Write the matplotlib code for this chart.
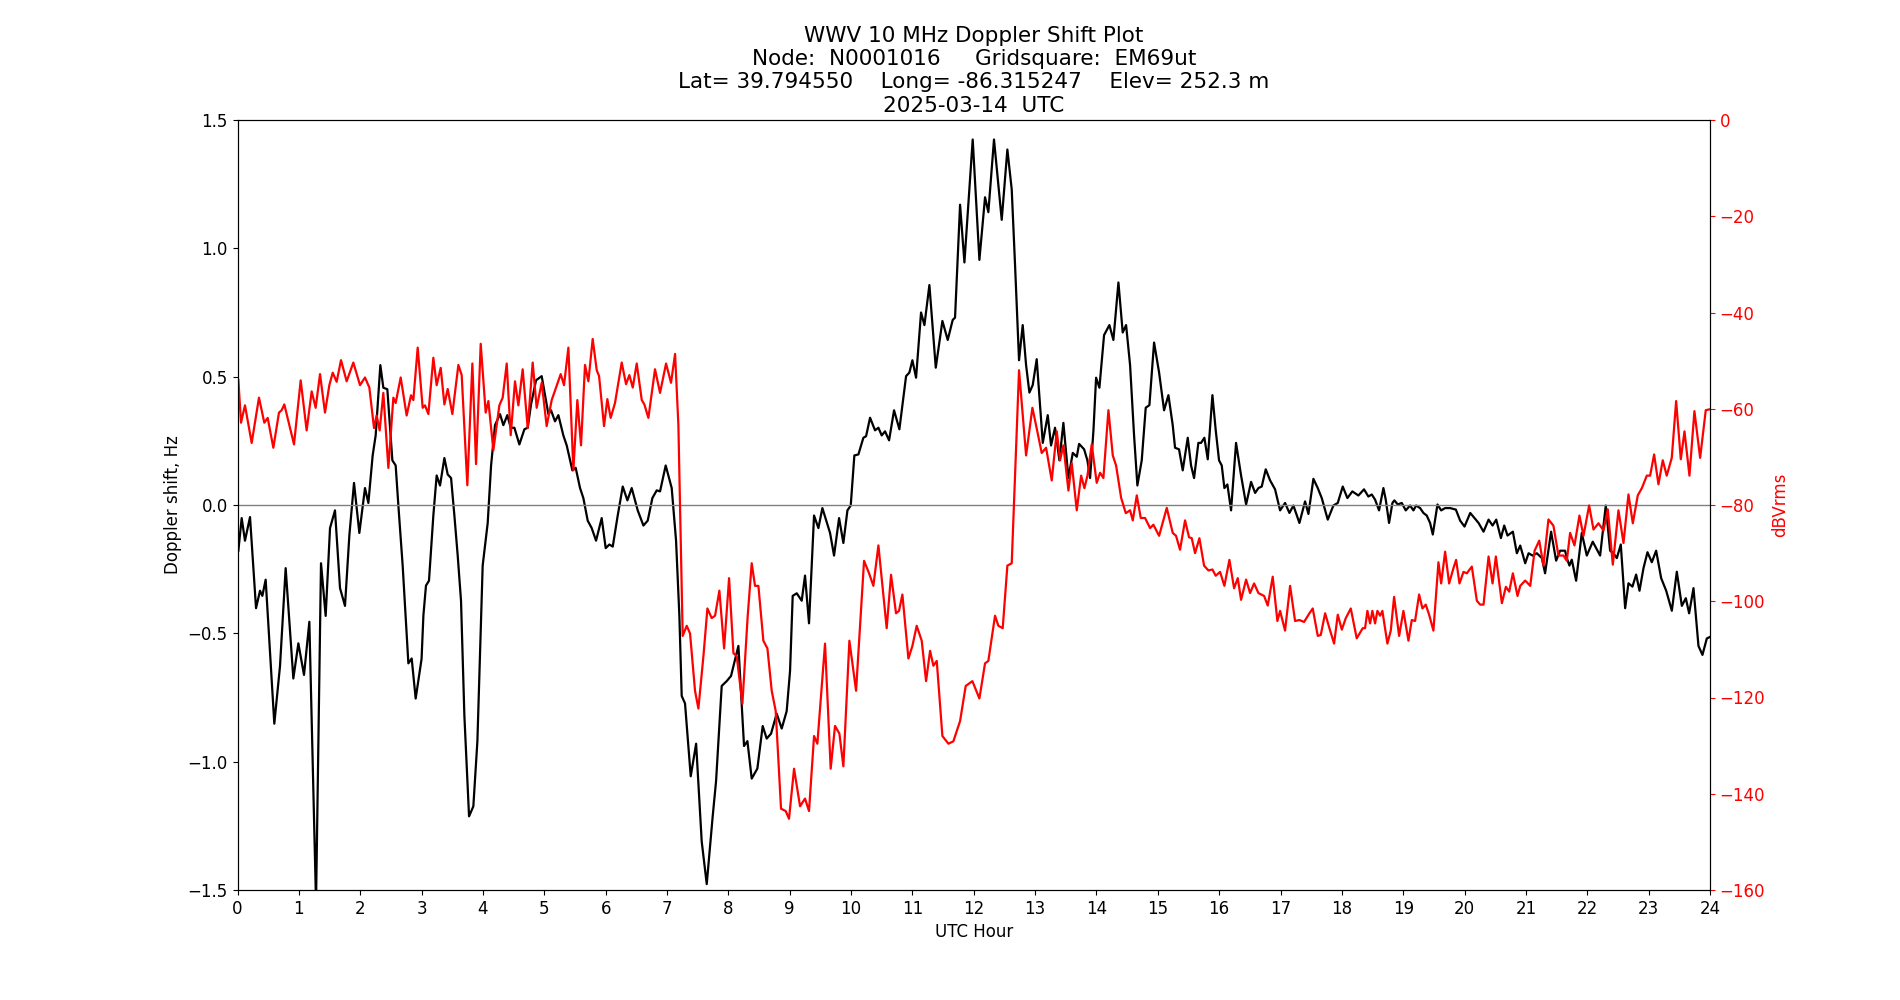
import matplotlib
matplotlib.use('Agg')
import matplotlib.pyplot as plt
import numpy as np

# Doppler shift (Hz) vs UTC hour
dop_hour = [0.014, 0.068, 0.122, 0.204, 0.302, 0.367, 0.405, 0.459, 0.600, 0.693,
            0.785, 0.910, 0.992, 1.084, 1.171, 1.280, 1.361, 1.437, 1.508, 1.589,
            1.671, 1.752, 1.823, 1.899, 1.986, 2.078, 2.133, 2.203, 2.252, 2.328,
            2.377, 2.442, 2.524, 2.578, 2.622, 2.692, 2.785, 2.839, 2.904, 3.000,
            3.030, 3.072, 3.121, 3.192, 3.246, 3.301, 3.372, 3.426, 3.481, 3.535,
            3.589, 3.643, 3.698, 3.774, 3.844, 3.910, 3.996, 4.078, 4.133, 4.197,
            4.279, 4.333, 4.398, 4.453, 4.513, 4.594, 4.676, 4.730, 4.785, 4.866,
            4.958, 5.012, 5.067, 5.110, 5.175, 5.230, 5.311, 5.366, 5.458, 5.512,
            5.583, 5.637, 5.708, 5.773, 5.844, 5.936, 6.001, 6.061, 6.116, 6.197,
            6.279, 6.355, 6.425, 6.523, 6.616, 6.686, 6.762, 6.833, 6.887, 6.979,
            7.077, 7.148, 7.202, 7.240, 7.294, 7.387, 7.475, 7.566, 7.648, 7.745,
            7.800, 7.892, 7.974, 8.044, 8.164, 8.256, 8.311, 8.381, 8.473, 8.560,
            8.625, 8.696, 8.788, 8.870, 8.951, 9.006, 9.049, 9.115, 9.196, 9.250,
            9.315, 9.397, 9.468, 9.533, 9.658, 9.723, 9.805, 9.875, 9.941, 9.995,
            10.054, 10.120, 10.201, 10.245, 10.310, 10.391, 10.446, 10.500, 10.554, 10.620,
            10.701, 10.788, 10.897, 10.951, 11.000, 11.060, 11.141, 11.196, 11.277, 11.381,
            11.489, 11.576, 11.657, 11.695, 11.777, 11.848, 11.983, 12.092, 12.184, 12.238,
            12.330, 12.456, 12.548, 12.619, 12.673, 12.738, 12.798, 12.853, 12.907, 12.961,
            13.026, 13.081, 13.125, 13.206, 13.260, 13.325, 13.396, 13.461, 13.543, 13.614,
            13.679, 13.717, 13.799, 13.852, 13.896, 13.951, 13.994, 14.048, 14.124, 14.211,
            14.276, 14.358, 14.428, 14.483, 14.548, 14.613, 14.667, 14.738, 14.803, 14.863,
            14.939, 15.021, 15.102, 15.173, 15.243, 15.281, 15.346, 15.406, 15.488, 15.542,
            15.591, 15.661, 15.705, 15.759, 15.814, 15.890, 15.944, 15.998, 16.042, 16.085,
            16.134, 16.194, 16.275, 16.357, 16.439, 16.520, 16.586, 16.640, 16.694, 16.759,
            16.830, 16.911, 16.993, 17.074, 17.145, 17.210, 17.308, 17.400, 17.455, 17.536,
            17.607, 17.672, 17.770, 17.862, 17.933, 18.014, 18.090, 18.171, 18.269, 18.361,
            18.432, 18.487, 18.541, 18.606, 18.677, 18.715, 18.769, 18.824, 18.856, 18.911,
            18.976, 19.041, 19.112, 19.166, 19.210, 19.275, 19.329, 19.383, 19.438, 19.482,
            19.558, 19.618, 19.683, 19.765, 19.858, 19.928, 19.999, 20.092, 20.162, 20.228,
            20.309, 20.391, 20.456, 20.516, 20.592, 20.646, 20.700, 20.787, 20.852, 20.907,
            20.988, 21.043, 21.108, 21.178, 21.260, 21.312, 21.410, 21.492, 21.557, 21.638,
            21.666, 21.709, 21.747, 21.818, 21.910, 21.992, 22.089, 22.209, 22.301, 22.372,
            22.426, 22.481, 22.546, 22.617, 22.671, 22.736, 22.796, 22.851, 22.916, 22.981,
            23.052, 23.122, 23.204, 23.286, 23.378, 23.459, 23.541, 23.606, 23.660, 23.731,
            23.812, 23.877, 23.948, 24.000]
dop_hz = [-0.178, -0.051, -0.139, -0.047, -0.402, -0.334, -0.354, -0.291, -0.852, -0.627,
          -0.246, -0.676, -0.539, -0.662, -0.455, -1.55, -0.227, -0.432, -0.090, -0.021,
          -0.324, -0.393, -0.119, 0.086, -0.109, 0.066, 0.008, 0.193, 0.271, 0.545,
          0.457, 0.451, 0.174, 0.154, -0.002, -0.236, -0.617, -0.598, -0.754, -0.600,
          -0.430, -0.314, -0.295, -0.041, 0.115, 0.076, 0.183, 0.119, 0.105, -0.041,
          -0.197, -0.373, -0.822, -1.213, -1.174, -0.920, -0.236, -0.070, 0.154, 0.311,
          0.354, 0.311, 0.350, 0.301, 0.301, 0.236, 0.295, 0.301, 0.393, 0.486,
          0.502, 0.428, 0.354, 0.369, 0.326, 0.350, 0.271, 0.232, 0.135, 0.145,
          0.066, 0.027, -0.061, -0.090, -0.139, -0.051, -0.168, -0.154, -0.162, -0.041,
          0.072, 0.018, 0.066, -0.021, -0.080, -0.061, 0.027, 0.057, 0.053, 0.154,
          0.066, -0.139, -0.432, -0.744, -0.773, -1.057, -0.930, -1.311, -1.477, -1.213,
          -1.076, -0.705, -0.686, -0.666, -0.549, -0.939, -0.920, -1.066, -1.027, -0.861,
          -0.910, -0.891, -0.813, -0.871, -0.803, -0.646, -0.354, -0.344, -0.373, -0.275,
          -0.461, -0.041, -0.090, -0.012, -0.109, -0.197, -0.051, -0.148, -0.021, -0.002,
          0.193, 0.197, 0.262, 0.268, 0.340, 0.291, 0.301, 0.271, 0.287, 0.252,
          0.369, 0.295, 0.502, 0.516, 0.564, 0.496, 0.750, 0.701, 0.857, 0.535,
          0.717, 0.643, 0.721, 0.730, 1.170, 0.945, 1.424, 0.955, 1.199, 1.141,
          1.424, 1.111, 1.385, 1.229, 0.936, 0.564, 0.701, 0.545, 0.438, 0.467,
          0.568, 0.389, 0.242, 0.350, 0.232, 0.301, 0.174, 0.320, 0.105, 0.203,
          0.188, 0.238, 0.217, 0.174, 0.105, 0.291, 0.496, 0.457, 0.662, 0.701,
          0.643, 0.867, 0.672, 0.701, 0.545, 0.271, 0.076, 0.174, 0.379, 0.389,
          0.633, 0.516, 0.369, 0.428, 0.311, 0.223, 0.217, 0.135, 0.262, 0.154,
          0.105, 0.242, 0.242, 0.262, 0.178, 0.428, 0.291, 0.174, 0.154, 0.066,
          0.080, -0.021, 0.242, 0.115, 0.002, 0.090, 0.047, 0.066, 0.072, 0.139,
          0.096, 0.061, -0.021, 0.008, -0.031, -0.002, -0.070, 0.014, -0.035, 0.102,
          0.066, 0.027, -0.057, -0.002, 0.008, 0.072, 0.027, 0.053, 0.037, 0.061,
          0.033, 0.041, 0.021, -0.021, 0.066, 0.021, -0.070, 0.008, 0.018, 0.002,
          0.008, -0.021, -0.002, -0.021, -0.002, -0.012, -0.031, -0.041, -0.070, -0.115,
          0.002, -0.021, -0.012, -0.012, -0.018, -0.061, -0.084, -0.031, -0.051, -0.070,
          -0.104, -0.057, -0.080, -0.057, -0.129, -0.080, -0.119, -0.104, -0.188, -0.158,
          -0.227, -0.188, -0.197, -0.188, -0.207, -0.266, -0.104, -0.217, -0.178, -0.178,
          -0.207, -0.236, -0.213, -0.295, -0.109, -0.197, -0.143, -0.197, -0.002, -0.178,
          -0.188, -0.207, -0.154, -0.402, -0.305, -0.318, -0.271, -0.334, -0.246, -0.184,
          -0.223, -0.178, -0.285, -0.334, -0.412, -0.260, -0.393, -0.363, -0.422, -0.324,
          -0.549, -0.584, -0.520, -0.514]

# signal level (dBVrms) vs UTC hour
amp_hour = [0.014, 0.057, 0.122, 0.231, 0.350, 0.437, 0.492, 0.584, 0.676, 0.720,
            0.763, 0.856, 0.921, 1.030, 1.127, 1.209, 1.274, 1.345, 1.426, 1.497,
            1.552, 1.616, 1.687, 1.779, 1.888, 1.997, 2.078, 2.149, 2.225, 2.268,
            2.317, 2.377, 2.459, 2.540, 2.578, 2.660, 2.757, 2.828, 2.866, 2.937,
            3.018, 3.056, 3.111, 3.192, 3.246, 3.312, 3.372, 3.426, 3.502, 3.600,
            3.654, 3.746, 3.828, 3.888, 3.964, 4.045, 4.089, 4.170, 4.268, 4.322,
            4.388, 4.453, 4.523, 4.578, 4.648, 4.730, 4.811, 4.876, 4.958, 5.039,
            5.121, 5.268, 5.322, 5.393, 5.474, 5.539, 5.599, 5.664, 5.719, 5.789,
            5.855, 5.893, 5.974, 6.028, 6.082, 6.153, 6.262, 6.333, 6.387, 6.442,
            6.507, 6.589, 6.631, 6.697, 6.805, 6.887, 6.985, 7.066, 7.132, 7.186,
            7.256, 7.322, 7.376, 7.457, 7.512, 7.594, 7.659, 7.729, 7.784, 7.854,
            7.931, 8.012, 8.083, 8.137, 8.229, 8.316, 8.381, 8.435, 8.490, 8.571,
            8.637, 8.707, 8.772, 8.859, 8.935, 8.989, 9.071, 9.169, 9.250, 9.315,
            9.397, 9.451, 9.576, 9.668, 9.739, 9.810, 9.875, 9.973, 10.082, 10.212,
            10.294, 10.364, 10.446, 10.581, 10.652, 10.733, 10.782, 10.837, 10.935, 11.000,
            11.070, 11.152, 11.223, 11.288, 11.342, 11.397, 11.489, 11.587, 11.668, 11.777,
            11.869, 11.924, 11.978, 12.092, 12.184, 12.238, 12.347, 12.401, 12.472, 12.548,
            12.619, 12.738, 12.853, 12.956, 13.015, 13.108, 13.179, 13.271, 13.353, 13.407,
            13.461, 13.543, 13.597, 13.679, 13.750, 13.804, 13.853, 13.923, 14.004, 14.059,
            14.113, 14.195, 14.266, 14.320, 14.402, 14.478, 14.548, 14.592, 14.657, 14.722,
            14.792, 14.874, 14.928, 15.021, 15.146, 15.243, 15.297, 15.362, 15.444, 15.509,
            15.553, 15.607, 15.678, 15.754, 15.825, 15.890, 15.944, 16.015, 16.085, 16.167,
            16.243, 16.303, 16.357, 16.439, 16.504, 16.569, 16.640, 16.732, 16.792, 16.873,
            16.949, 16.993, 17.074, 17.156, 17.237, 17.308, 17.384, 17.471, 17.525, 17.607,
            17.656, 17.727, 17.797, 17.873, 17.933, 17.999, 18.064, 18.145, 18.242, 18.340,
            18.378, 18.416, 18.460, 18.497, 18.541, 18.579, 18.623, 18.660, 18.742, 18.797,
            18.851, 18.933, 19.003, 19.085, 19.139, 19.193, 19.259, 19.313, 19.367, 19.422,
            19.492, 19.574, 19.618, 19.683, 19.748, 19.819, 19.862, 19.917, 19.982, 20.036,
            20.118, 20.200, 20.254, 20.309, 20.391, 20.456, 20.510, 20.608, 20.673, 20.727,
            20.787, 20.863, 20.907, 20.988, 21.070, 21.141, 21.217, 21.285, 21.367, 21.448,
            21.530, 21.611, 21.666, 21.720, 21.791, 21.872, 21.938, 22.030, 22.101, 22.182,
            22.264, 22.334, 22.416, 22.508, 22.590, 22.671, 22.742, 22.823, 22.889, 22.970,
            23.024, 23.089, 23.160, 23.230, 23.295, 23.377, 23.448, 23.524, 23.584, 23.665,
            23.746, 23.839, 23.931, 24.000]
amp_db = [-54.0, -62.9, -59.3, -67.1, -57.7, -62.9, -61.9, -68.1, -60.8, -60.3,
          -59.1, -64.0, -67.4, -54.1, -64.5, -56.4, -59.8, -52.8, -60.8, -55.1,
          -52.5, -54.4, -49.9, -54.3, -50.4, -55.1, -53.5, -55.6, -64.0, -61.4,
          -64.5, -56.7, -72.3, -57.7, -58.8, -53.5, -61.4, -57.2, -58.2, -47.3,
          -59.8, -59.3, -61.1, -49.4, -55.1, -51.5, -59.1, -55.9, -61.1, -50.9,
          -53.0, -75.9, -50.6, -71.5, -46.5, -60.8, -58.4, -68.6, -59.3, -57.7,
          -50.6, -65.5, -54.3, -59.3, -51.8, -64.0, -50.4, -59.8, -54.6, -63.6,
          -58.2, -52.8, -55.1, -47.3, -72.8, -58.2, -67.6, -50.9, -54.3, -45.5,
          -52.0, -53.2, -63.6, -58.0, -61.9, -58.8, -50.4, -54.9, -53.0, -55.6,
          -50.6, -58.2, -59.1, -61.9, -51.8, -56.7, -50.6, -54.6, -48.6, -63.4,
          -107.2, -105.1, -106.7, -118.6, -122.3, -111.4, -101.5, -103.5, -103.0, -97.8,
          -109.8, -95.2, -110.8, -111.4, -121.3, -103.0, -92.1, -96.8, -96.8, -108.2,
          -109.8, -118.6, -122.8, -143.1, -143.6, -145.2, -134.8, -142.6, -141.0, -143.6,
          -128.0, -129.6, -108.8, -134.8, -125.9, -127.5, -134.3, -108.2, -118.6, -91.6,
          -94.2, -96.8, -88.4, -105.6, -94.5, -102.5, -102.0, -98.6, -111.9, -109.3,
          -105.1, -108.2, -116.6, -110.3, -113.4, -112.4, -128.0, -129.6, -129.1, -124.9,
          -117.6, -117.1, -116.6, -120.2, -112.9, -112.4, -103.0, -105.1, -105.6, -92.6,
          -92.1, -52.0, -69.7, -59.8, -63.4, -69.2, -68.1, -74.9, -64.7, -70.7,
          -67.6, -77.0, -71.3, -81.1, -73.9, -76.5, -73.9, -67.4, -75.4, -73.3,
          -74.4, -60.3, -69.7, -71.8, -78.5, -81.7, -81.1, -83.2, -78.0, -82.7,
          -82.7, -84.8, -84.1, -86.4, -80.6, -85.8, -86.4, -89.3, -83.2, -86.7,
          -86.9, -90.0, -86.9, -92.6, -93.6, -93.4, -94.7, -93.9, -96.8, -91.4,
          -97.3, -95.2, -99.7, -95.5, -98.3, -96.3, -98.3, -98.9, -100.9, -94.9,
          -104.1, -102.0, -106.1, -96.8, -104.1, -103.9, -104.3, -102.5, -101.5, -107.2,
          -107.0, -102.5, -105.6, -108.8, -102.8, -105.9, -103.5, -101.5, -107.7, -105.6,
          -105.6, -102.0, -104.6, -102.0, -104.6, -102.0, -103.0, -102.0, -108.8, -106.1,
          -99.1, -107.2, -102.0, -108.2, -103.9, -104.1, -98.6, -101.5, -100.7, -102.8,
          -106.1, -91.9, -96.3, -89.7, -96.3, -93.1, -91.4, -96.3, -93.9, -94.2,
          -92.8, -99.9, -100.7, -100.7, -90.7, -96.3, -90.7, -100.4, -97.0, -98.0,
          -94.2, -98.9, -96.8, -95.7, -96.8, -89.5, -87.4, -92.6, -83.0, -84.3,
          -90.5, -90.5, -91.6, -85.8, -88.4, -82.2, -86.4, -80.1, -85.1, -83.8,
          -85.3, -80.9, -92.4, -81.1, -87.9, -77.8, -83.8, -78.0, -76.5, -73.9,
          -73.9, -69.5, -75.7, -70.7, -73.9, -70.2, -58.4, -70.5, -64.7, -73.9,
          -60.5, -70.2, -60.3, -60.1]

title = ('WWV 10 MHz Doppler Shift Plot\n'
         'Node:  N0001016     Gridsquare:  EM69ut\n'
         'Lat= 39.794550    Long= -86.315247    Elev= 252.3 m\n'
         '2025-03-14  UTC')

fig, ax = plt.subplots(figsize=(19, 10), dpi=100)

ax.plot(dop_hour, dop_hz, color='k', linewidth=1.6)
ax.axhline(0, color='gray', linewidth=1)
ax.set_xlim(0, 24)
ax.set_ylim(-1.5, 1.5)
ax.set_xticks(np.arange(0, 25, 1))
ax.set_yticks(np.arange(-1.5, 1.51, 0.5))
ax.tick_params(labelsize=12)
ax.set_xlabel('UTC Hour', fontsize=12)
ax.set_ylabel('Doppler shift, Hz', fontsize=12)
ax.set_title(title, fontsize=15.5)

# second axis for signal level
ax2 = ax.twinx()
ax2.plot(amp_hour, amp_db, color='r', linewidth=1.6)
ax2.set_ylim(-160, 0)
ax2.set_yticks(np.arange(-160, 1, 20))
ax2.tick_params(axis='y', labelsize=12, colors='r')
ax2.set_ylabel('dBVrms', fontsize=12, color='r')

plt.savefig('out.png', dpi=100)
